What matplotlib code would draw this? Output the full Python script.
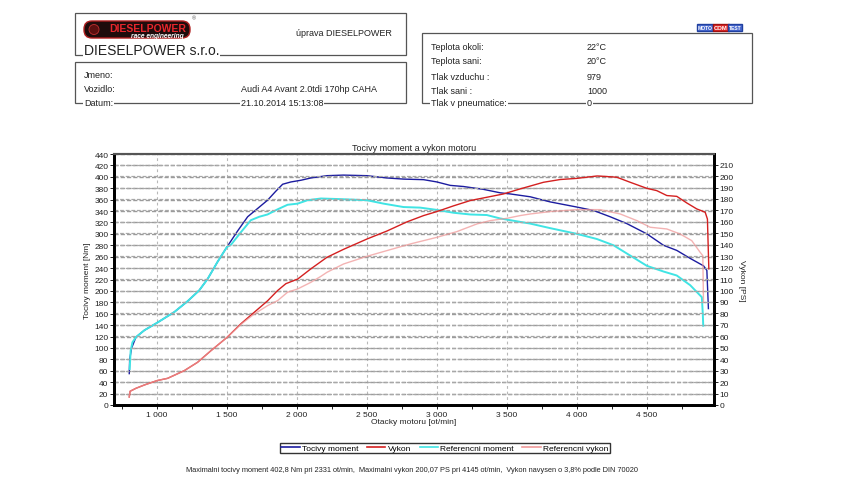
import numpy as np
import matplotlib
matplotlib.use("Agg")
from matplotlib import pyplot as plt
from matplotlib.patches import Rectangle, FancyBboxPatch, Circle
from matplotlib.ticker import FuncFormatter, MultipleLocator

plt.rcParams['font.family'] = ['Liberation Sans', 'DejaVu Sans']

# --- data read from the dyno sheet ---
moment_rpm = [802, 805, 819, 850, 910, 1000, 1124, 1219, 1302, 1362, 1433, 1500, 1576, 1648,
              1707, 1790, 1850, 1898, 1957, 2029, 2100, 2214, 2331, 2500, 2643, 2762, 2905,
              3000, 3095, 3190, 3333, 3452, 3524, 3667, 3810, 4000, 4119, 4238, 4357, 4500,
              4619, 4714, 4810, 4905, 4929, 4935, 4940]
moment_nm = [55, 80, 100, 119, 131, 144, 163, 182, 201, 221, 251, 277, 305, 330,
             342, 359, 375, 387, 391, 394, 398, 402, 403, 402, 398, 396, 395,
             391, 385, 383, 378, 372, 370, 365, 356, 347, 341, 330, 318, 300,
             280, 271, 257, 244, 236, 200, 169]

ref_moment_rpm = [805, 812, 825, 850, 910, 1000, 1124, 1219, 1302, 1362, 1433, 1500, 1529, 1600,
                  1671, 1731, 1790, 1862, 1933, 2005, 2076, 2171, 2300, 2500, 2619, 2762, 2881,
                  3000, 3119, 3238, 3357, 3452, 3524, 3667, 3810, 4000, 4143, 4262, 4381, 4500,
                  4619, 4714, 4810, 4893, 4900, 4903]
ref_moment_nm = [63, 95, 110, 119, 131, 144, 163, 182, 201, 221, 251, 277, 281, 303,
                 324, 330, 334, 343, 351, 353, 359, 362, 361, 359, 353, 347, 346,
                 342, 337, 334, 333, 327, 324, 318, 310, 300, 291, 280, 262, 244,
                 234, 227, 210, 189, 160, 139]

vykon_rpm = [802, 808, 850, 910, 1000, 1076, 1195, 1290, 1386, 1500, 1600, 1695, 1790, 1862,
             1921, 2005, 2100, 2214, 2333, 2500, 2643, 2786, 2905, 3000, 3119, 3238, 3357,
             3476, 3595, 3762, 3881, 4000, 4145, 4190, 4286, 4381, 4500, 4571, 4643, 4714,
             4786, 4857, 4917, 4933, 4943]
vykon_ps = [7, 12, 14.6, 17.5, 21.3, 23.3, 30, 37.3, 47.5, 59, 71, 81, 91, 100,
            106, 110, 119, 129, 136, 145, 152, 160, 165.5, 169, 174, 178.6, 181.5,
            184.4, 188.8, 194.6, 197, 198, 200.1, 199.8, 199, 194.6, 189.3, 187.3, 183, 182.3,
            176.5, 171.3, 168.4, 162.5, 119]

ref_vykon_rpm = [802, 808, 850, 910, 1000, 1076, 1195, 1290, 1386, 1500, 1600, 1695, 1790, 1862,
                 1933, 2005, 2100, 2171, 2214, 2333, 2500, 2643, 2810, 3000, 3143, 3286, 3381,
                 3500, 3595, 3667, 3810, 4000, 4167, 4310, 4429, 4524, 4643, 4738, 4821, 4881,
                 4900, 4905]
ref_vykon_ps = [7, 12, 14.6, 17.5, 21.3, 23.3, 30, 37.3, 47.5, 59, 70.5, 79.5, 86.8, 91.2,
                98.5, 101.4, 107.2, 112.4, 115.9, 123.2, 129.9, 134.9, 140.7, 146.5, 151.5, 158.2, 161.1,
                163.1, 165.5, 166.9, 169, 170.7, 170.7, 166.9, 161.1, 155.3, 153.8, 149.4, 143.6, 133.4,
                130.5, 90]

labels = ["Tocivy moment", "Vykon", "Referencni moment", "Referencni vykon"]
colors = ["#1c1ca0", "#d42020", "#40e4e4", "#f09a9a"]

W, H = 850, 489
fig = plt.figure(figsize=(W / 100, H / 100), dpi=100)

# background layer in pixel coordinates for header, legend, footer
bg = fig.add_axes([0, 0, 1, 1], zorder=-1)
bg.set_xlim(0, W)
bg.set_ylim(H, 0)
bg.axis('off')

def box(x0, y0, x1, y1):
    bg.add_patch(Rectangle((x0, y0), x1 - x0, y1 - y0, fill=False, ec='#555555', lw=0.9))

def line_text(x, y, s, size=6.5, **kw):
    bg.text(x, y, s, fontsize=size, va='baseline', color='#222222',
            bbox=dict(facecolor='white', edgecolor='none', pad=0.6), **kw)

# header left
box(75, 14, 406, 56)
logo = FancyBboxPatch((84, 22), 106, 17, boxstyle="round,pad=0,rounding_size=8",
                      fc='#1e0c0c', ec='#b02020', lw=1.0)
bg.add_patch(logo)
bg.add_patch(Circle((94, 30.5), 5, fc='#5a1010', ec='#c03030', lw=0.6))
bg.text(148, 29, "DIESELPOWER", fontsize=7.5, fontweight='bold', color='#e8262c',
        ha='center', va='center')
bg.text(184, 36.2, "race engineering", fontsize=4.8, fontweight='bold', style='italic',
        color='white', ha='right', va='center')
bg.text(192, 19, "®", fontsize=4, color='#555555', ha='left', va='center')
line_text(84, 55, "DIESELPOWER s.r.o.", size=10)
bg.text(296, 33, "úprava DIESELPOWER", fontsize=6.5, color='#222222', va='center')

# header vehicle box
box(75, 63, 406, 104)
bg.text(84, 75, "Jmeno:", fontsize=6.5, color='#222222', va='center')
bg.text(84, 89, "Vozidlo:", fontsize=6.5, color='#222222', va='center')
line_text(84, 106, "Datum:")
bg.text(241, 89, "Audi A4 Avant 2.0tdi 170hp CAHA", fontsize=6.5, color='#222222', va='center')
line_text(241, 106, "21.10.2014 15:13:08")

# header conditions box
box(422, 34, 752, 104)
cond_names = ["Teplota okoli:", "Teplota sani:", "Tlak vzduchu :", "Tlak sani :"]
cond_vals = ["22°C", "20°C", "979", "1000"]
for i, (n, v) in enumerate(zip(cond_names, cond_vals)):
    yy = 47 + i * 15
    bg.text(431, yy, n, fontsize=6.5, color='#222222', va='center')
    bg.text(587, yy, v, fontsize=6.5, color='#222222', va='center')
line_text(431, 106, "Tlak v pneumatice:")
line_text(587, 106, "0")

# MOTO COM TEST logo
bg.text(705, 28.5, "MOTO", fontsize=3.6, fontweight='bold', color='white', ha='center', va='center',
        bbox=dict(facecolor='#4a6ad0', edgecolor='#2040a0', pad=0.6))
bg.text(721, 28.5, "COM", fontsize=4.2, fontweight='bold', color='white', ha='center', va='center',
        bbox=dict(facecolor='#e02a2a', edgecolor='#a01010', pad=0.5))
bg.text(735, 28.5, "TEST", fontsize=3.6, fontweight='bold', color='white', ha='center', va='center',
        bbox=dict(facecolor='#4a6ad0', edgecolor='#2040a0', pad=0.6))

# --- main chart ---
ax = fig.add_axes([114 / W, 1 - 406 / H, 600 / W, 251 / H])
ax2 = ax.twinx()

l1, = ax.plot(moment_rpm, moment_nm, color=colors[0], lw=1.0, zorder=3)
l3, = ax.plot(ref_moment_rpm, ref_moment_nm, color=colors[2], lw=1.4, zorder=4)
l2, = ax2.plot(vykon_rpm, vykon_ps, color=colors[1], lw=1.0, zorder=3)
l4, = ax2.plot(ref_vykon_rpm, ref_vykon_ps, color=colors[3], lw=1.0, alpha=0.75, zorder=4)

ax.set_xlim(693, 4980)
ax.set_ylim(0, 440)
ax2.set_ylim(0, 219.3)

ax.xaxis.set_major_locator(MultipleLocator(500))
ax.xaxis.set_minor_locator(MultipleLocator(250))
ax.xaxis.set_major_formatter(FuncFormatter(lambda v, p: f"{int(v):,}".replace(",", " ")))
ax.yaxis.set_major_locator(MultipleLocator(20))
ax2.set_yticks(np.arange(0, 211, 10))

ax.tick_params(axis='both', which='both', labelsize=6, length=3, width=0.7, pad=1, colors='#222222')
ax2.tick_params(axis='y', labelsize=6, length=3, width=0.7, pad=1, colors='#222222')

ax.grid(axis='x', which='major', color='#b8b8b8', ls=(0, (2.5, 2.5)), lw=0.8)
ax.grid(axis='y', color='#9a9a9a', ls=(0, (3, 1.5)), lw=1.0)
ax2.grid(axis='y', color='#a8a8a8', ls=(0, (3, 1.5)), lw=0.9)
ax.set_axisbelow(True)
ax2.set_axisbelow(True)

for a in (ax, ax2):
    for side in ('left', 'bottom', 'right'):
        a.spines[side].set_linewidth(2.0)
        a.spines[side].set_color('black')
    a.spines['top'].set_linewidth(1.5)
    a.spines['top'].set_color('#555555')

ax.set_title("Tocivy moment a vykon motoru", fontsize=6.5, pad=3, color='#222222')
ax.set_ylabel("Tocivy moment [Nm]", fontsize=6, labelpad=2, color='#222222')
ax2.set_ylabel("Vykon [PS]", fontsize=6, labelpad=8, rotation=270, color='#222222')
ax.set_xlabel("Otacky motoru [ot/min]", fontsize=6, labelpad=0, color='#222222')

leg = fig.legend([l1, l2, l3, l4], labels, loc='center', bbox_to_anchor=(445 / W, 1 - 449 / H),
                 ncol=4, fontsize=6, frameon=True, fancybox=False, edgecolor='black',
                 handlelength=2.2, handletextpad=0.3, columnspacing=1.0,
                 borderpad=0.15, borderaxespad=0)
leg.get_frame().set_linewidth(1.0)
for h in leg.get_lines():
    h.set_linewidth(1.2)
    h.set_alpha(1)

bg.text(412, 471, "Maximalni tocivy moment 402,8 Nm pri 2331 ot/min,  Maximalni vykon 200,07 PS pri 4145 ot/min,  "
        "Vykon navysen o 3,8% podle DIN 70020", fontsize=5.3, color='#222222', ha='center', va='center')

fig.savefig("out.png", dpi=100, facecolor='white')
